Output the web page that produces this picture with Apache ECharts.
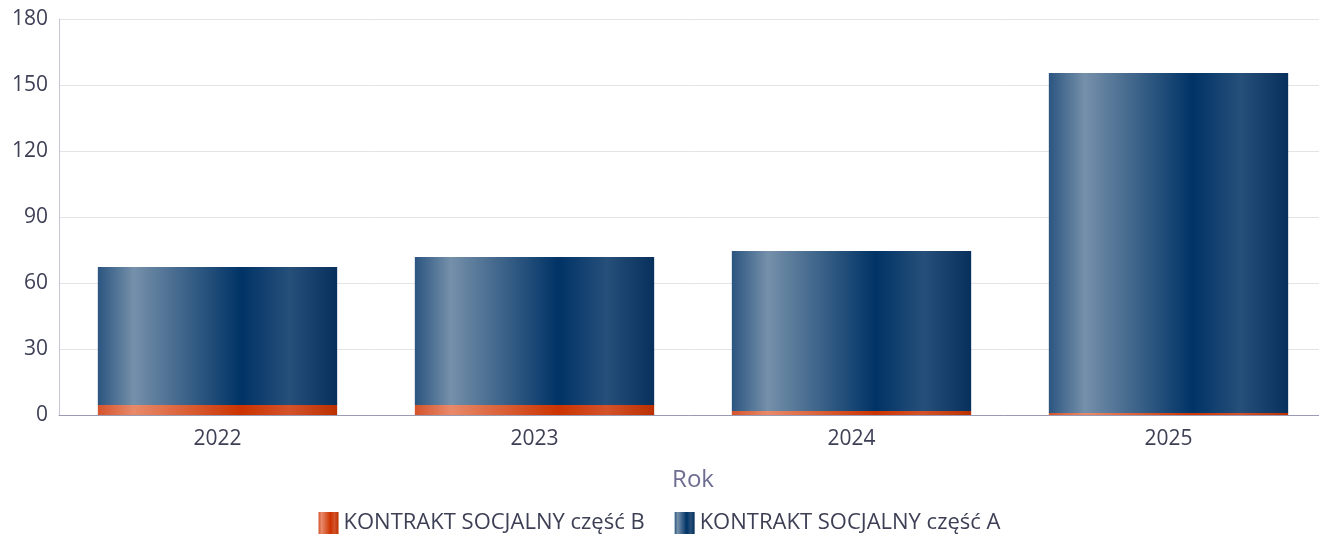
<!DOCTYPE html>
<html>
<head>
<meta charset="utf-8">
<script src="https://cdn.jsdelivr.net/npm/echarts@6/dist/echarts.min.js"></script>
<style>
  html, body { margin: 0; padding: 0; background: #fff; }
  #main { width: 1319px; height: 535px; }
</style>
</head>
<body>
<div id="main"></div>
<script>
var years = ['2022', '2023', '2024', '2025'];
var partB = [4.5, 4.5, 1.8, 0.9];
var partA = [62.8, 67.3, 72.7, 154.6];
var yTicks = [0, 30, 60, 90, 120, 150, 180];

var font = 'Open Sans';

function barGradient(c) {
    return new echarts.graphic.LinearGradient(0, 0, 1, 0, [
        { offset: 0, color: c[0] },
        { offset: 0.15, color: c[1] },
        { offset: 0.6, color: c[2] },
        { offset: 0.8, color: c[3] },
        { offset: 1, color: c[4] }
    ]);
}
var blue = barGradient(['#2b5580', '#7590aa', '#003366', '#264f7a', '#08305c']);
var orange = barGradient(['#d4532c', '#e88a6a', '#cc3300', '#d4522a', '#bb3000']);

var myChart = echarts.init(document.getElementById('main'));
var option = {
    animation: false,
    textStyle: { fontFamily: font },
    grid: {
        left: 59,
        right: -8,
        top: 19,
        bottom: 120,
        outerBoundsMode: 'none'
    },
    legend: {
        bottom: 1,
        left: 'center',
        padding: 0,
        icon: 'rect',
        itemWidth: 20,
        itemHeight: 22,
        itemGap: 30,
        textStyle: { fontSize: 22, color: '#3d3f55', fontFamily: font },
        data: [
            { name: 'KONTRAKT SOCJALNY część B', itemStyle: { color: orange } },
            { name: 'KONTRAKT SOCJALNY część A', itemStyle: { color: blue } }
        ]
    },
    xAxis: {
        type: 'category',
        data: years,
        name: 'Rok',
        nameLocation: 'middle',
        nameGap: 53,
        nameTextStyle: { fontSize: 24, color: '#6e6e92', fontFamily: font },
        axisLine: { lineStyle: { color: '#9a9ab2', width: 1 } },
        axisTick: { show: false },
        axisLabel: { fontSize: 21, color: '#3d3f55', margin: 14 }
    },
    yAxis: {
        type: 'value',
        min: yTicks[0],
        max: yTicks[yTicks.length - 1],
        interval: 30,
        axisLine: { show: true, lineStyle: { color: '#c4c4d4', width: 1 } },
        axisTick: { show: false },
        splitLine: { lineStyle: { color: '#e4e4e8' } },
        axisLabel: { fontSize: 21, color: '#3d3f55', margin: 11 }
    },
    series: [
        {
            name: 'KONTRAKT SOCJALNY część B',
            type: 'bar',
            stack: 'total',
            barWidth: '75.5%',
            data: partB,
            itemStyle: { color: orange }
        },
        {
            name: 'KONTRAKT SOCJALNY część A',
            type: 'bar',
            stack: 'total',
            barWidth: '75.5%',
            data: partA,
            itemStyle: { color: blue }
        }
    ]
};
myChart.setOption(option);
</script>
</body>
</html>
